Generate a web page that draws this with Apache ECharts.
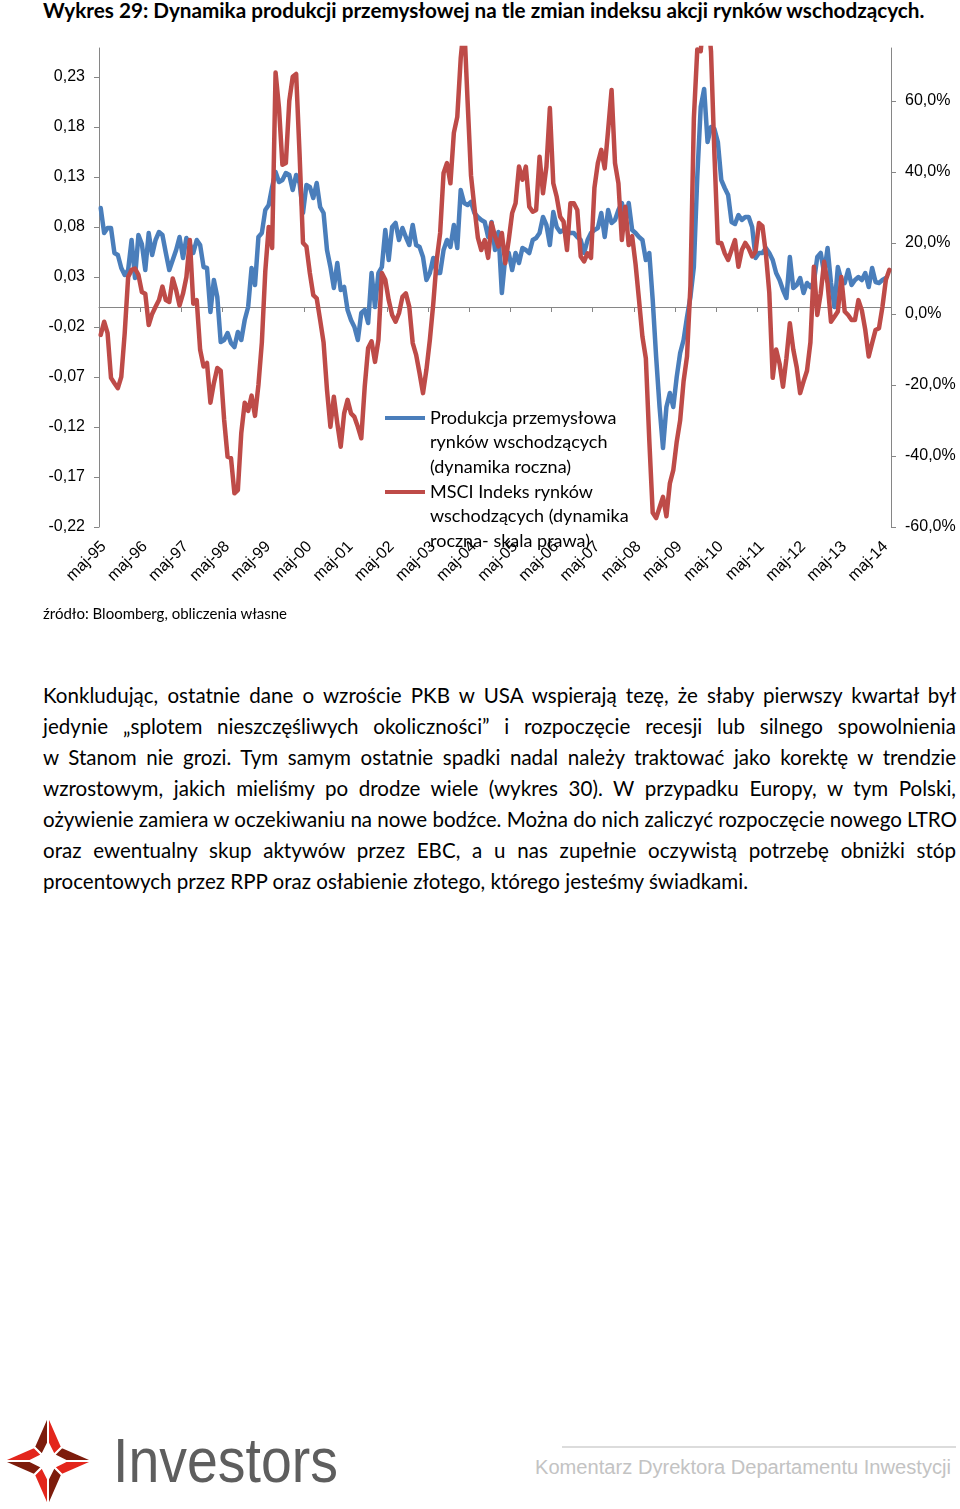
<!DOCTYPE html>
<html>
<head>
<meta charset="utf-8">
<script src="https://cdn.jsdelivr.net/npm/echarts@6/dist/echarts.min.js"></script>
<style>
html,body{margin:0;padding:0;background:#fff;}
body{width:960px;height:1509px;overflow:hidden;position:relative;}
.t{position:absolute;white-space:nowrap;color:#000;}
#title{left:43px;top:-2px;font-family:Lato;font-weight:bold;font-size:19px;line-height:24px;}
#chart{position:absolute;left:0;top:0;width:960px;height:640px;}
#src{left:43px;top:603px;font-family:Lato;font-size:14.5px;line-height:20px;}
.pl{position:absolute;left:43px;width:913px;font-family:Lato;font-size:20px;line-height:31px;white-space:nowrap;color:#000;text-align:justify;text-align-last:justify;}
.pl.last{text-align:left;text-align-last:left;}
#inv{left:113px;top:1424px;font-family:"Liberation Sans",sans-serif;font-size:63px;line-height:72px;color:#5e5e5e;transform-origin:0 0;}
#kom{left:535px;top:1455px;font-family:"Liberation Sans",sans-serif;font-size:20px;line-height:24px;color:#c3c3c3;transform-origin:0 0;}
#rule{position:absolute;left:562px;top:1446px;width:394px;height:2px;background:#dcdcdc;}
</style>
</head>
<body>
<div class="t" id="title"><span id="titleSpan">Wykres 29: Dynamika produkcji przemysłowej na tle zmian indeksu akcji rynków wschodzących.</span></div>
<div id="chart"></div>
<div class="t" id="src"><span id="srcSpan">źródło: Bloomberg, obliczenia własne</span></div>

<div class="pl" style="top:680px">Konkludując, ostatnie dane o wzroście PKB w USA wspierają tezę, że słaby pierwszy kwartał był</div>
<div class="pl" style="top:711px">jedynie „splotem nieszczęśliwych okoliczności” i rozpoczęcie recesji lub silnego spowolnienia</div>
<div class="pl" style="top:742px">w Stanom nie grozi. Tym samym ostatnie spadki nadal należy traktować jako korektę w trendzie</div>
<div class="pl" style="top:773px">wzrostowym, jakich mieliśmy po drodze wiele (wykres 30). W przypadku Europy, w tym Polski,</div>
<div class="pl" style="top:804px">ożywienie zamiera w oczekiwaniu na nowe bodźce. Można do nich zaliczyć rozpoczęcie nowego LTRO</div>
<div class="pl" style="top:835px">oraz ewentualny skup aktywów przez EBC, a u nas zupełnie oczywistą potrzebę obniżki stóp</div>
<div class="pl last" style="top:866px"><span id="lastSpan">procentowych przez RPP oraz osłabienie złotego, którego jesteśmy świadkami.</span></div>

<svg style="position:absolute;left:0;top:1413px" width="96" height="96" viewBox="0 0 96 96">
  <g stroke="#fff" stroke-width="2" stroke-linejoin="miter">
    <polygon fill="#e3261c" points="48,2 62,34 54,42 48,30"/>
    <polygon fill="#7d1c0c" points="48,2 48,30 42,42 34,34"/>
    <polygon fill="#e3261c" points="94,48 62,62 54,54 66,48"/>
    <polygon fill="#7d1c0c" points="94,48 66,48 54,42 62,34"/>
    <polygon fill="#e3261c" points="48,94 34,62 42,54 48,66"/>
    <polygon fill="#7d1c0c" points="48,94 48,66 54,54 62,62"/>
    <polygon fill="#e3261c" points="2,48 34,34 42,42 30,48"/>
    <polygon fill="#7d1c0c" points="2,48 30,48 42,54 34,62"/>
  </g>
</svg>
<div class="t" id="inv"><span id="invSpan">Investors</span></div>
<div id="rule"></div>
<div class="t" id="kom"><span id="komSpan">Komentarz Dyrektora Departamentu Inwestycji</span></div>

<script>
// ---------- DATA ----------
const monthNames = ['sty','lut','mar','kwi','maj','cze','lip','sie','wrz','paź','lis','gru'];
const startYear = 1995;
const startMonth = 4; // maj
const nMonths = 231;  // maj-95 .. lip-14

const nameProd = 'Produkcja przemysłowa rynków wschodzących (dynamika roczna)';
const nameMsci = 'MSCI Indeks rynków wschodzących (dynamika roczna- skala prawa)';

const legendLines = {};
legendLines[nameProd] = ['Produkcja przemysłowa', 'rynków wschodzących', '(dynamika roczna)'];
legendLines[nameMsci] = ['MSCI Indeks rynków', 'wschodzących (dynamika', 'roczna- skala prawa)'];

// Industrial production EM, y/y (left axis)
const prodEM = [
0.099,0.074,0.079,0.079,0.054,0.052,0.039,0.032,0.037,0.067,
0.029,0.072,0.063,0.037,0.074,0.052,0.067,0.075,0.072,0.054,
0.037,0.047,0.057,0.07,0.049,0.069,0.063,0.054,0.067,0.062,
0.04,0.039,-0.005,0.027,0.01,-0.035,-0.033,-0.026,-0.036,-0.04,
-0.025,-0.033,-0.013,0.0,0.039,0.022,0.07,0.074,0.097,0.102,
0.12,0.135,0.125,0.127,0.134,0.132,0.117,
0.132,0.124,0.094,0.122,0.12,0.109,0.124,0.1,0.094,0.057,
0.04,0.019,0.044,0.017,0.02,-0.003,-0.013,-0.02,-0.033,-0.006,
-0.003,-0.016,0.034,0.0,0.034,0.04,0.077,0.047,0.08,0.084,
0.067,0.079,0.07,0.062,0.082,0.062,0.06,0.05,0.027,0.034,
0.049,0.034,0.034,0.057,0.067,0.06,0.082,0.059,0.117,0.104,
0.102,0.105,0.094,0.09,0.087,
0.085,0.07,0.085,0.057,0.075,0.014,0.05,0.054,0.037,0.054,
0.044,0.059,0.057,0.054,0.067,0.069,0.074,0.09,0.082,0.062,
0.095,0.08,0.075,0.077,0.075,0.074,0.074,0.07,0.067,0.054,
0.067,0.074,0.077,0.079,0.094,0.07,0.097,0.084,0.087,0.097,
0.104,0.085,0.104,0.077,0.074,0.07,0.067,0.047,0.054,0.007,
-0.05,-0.1,-0.141,-0.1,-0.086,-0.1,-0.07,-0.046,-0.033,
-0.01,0.01,0.04,0.13,0.2,0.218,0.165,0.18,0.178,0.165,
0.127,0.119,0.112,0.085,0.083,0.092,0.087,0.09,0.09,0.08,
0.049,0.054,0.054,0.059,0.054,0.047,0.034,0.027,0.017,0.009,
0.05,0.019,0.022,0.029,0.014,0.024,0.02,0.025,0.05,0.054,
0.034,0.059,0.024,0.0,0.04,0.027,0.024,0.037,0.022,0.027,
0.03,0.027,0.034,0.02,0.039,0.025,0.024,0.027,0.029,null
];

// MSCI EM index, y/y (right axis)
const msciEM = [
-0.059,-0.022,-0.054,-0.18,-0.195,-0.209,-0.177,-0.054,0.104,0.124,
0.128,0.11,0.062,0.057,-0.031,0.0,0.02,0.039,0.077,0.039,
0.034,0.1,0.067,0.024,0.057,0.104,0.208,0.029,0.039,-0.101,
-0.148,-0.138,-0.25,-0.195,-0.152,-0.16,-0.298,-0.402,-0.406,-0.505,
-0.496,-0.335,-0.25,-0.273,-0.23,-0.287,-0.2,-0.08,0.12,0.245,
0.186,0.68,0.58,0.42,0.425,0.6,0.668,
0.676,0.45,0.2,0.19,0.115,0.053,0.044,-0.017,-0.08,-0.214,
-0.318,-0.233,-0.308,-0.374,-0.28,-0.242,-0.28,-0.29,-0.318,-0.35,
-0.205,-0.096,-0.077,-0.135,-0.073,0.115,0.096,0.039,-0.003,-0.022,
0.002,0.048,0.058,0.02,-0.082,-0.115,-0.167,-0.223,-0.157,-0.073,
0.029,0.152,0.228,0.397,0.425,0.368,0.51,0.555,0.72,0.82,
0.6,0.39,0.3,0.215,0.18,
0.208,0.158,0.256,0.219,0.19,0.228,0.143,0.208,0.284,0.312,
0.415,0.378,0.415,0.302,0.288,0.293,0.443,0.34,0.415,0.58,
0.368,0.33,0.274,0.26,0.18,0.312,0.312,0.293,0.162,0.148,
0.171,0.158,0.355,0.425,0.462,0.41,0.518,0.631,0.425,0.368,
0.208,0.302,0.194,0.219,0.14,0.04,-0.064,-0.125,-0.355,-0.56,
-0.575,-0.545,-0.515,-0.57,-0.477,-0.44,-0.36,-0.3,-0.19,
-0.12,0.08,0.55,0.745,0.74,0.85,0.85,0.74,0.45,0.2,
0.2,0.171,0.152,0.18,0.208,0.133,0.18,0.2,0.185,0.162,
0.176,0.256,0.247,0.171,0.06,-0.18,-0.1,-0.14,-0.205,-0.125,
-0.026,-0.1,-0.15,-0.223,-0.19,-0.16,-0.08,0.133,-0.003,0.058,
0.147,0.086,-0.022,-0.008,0.007,0.104,0.007,-0.003,-0.017,-0.017,
0.039,0.01,-0.045,-0.12,-0.082,-0.045,-0.04,0.02,0.096,0.124
];

// Axis scales
const leftMin = -0.22, leftMax = 0.259, leftStep = 0.05;
const rightMin = -0.6, rightMax = 0.749, rightStep = 0.2;

// category labels (month-yy)
const categories = [];
for (let k = 0; k < nMonths; k++) {
  const m = (startMonth + k) % 12;
  const y = startYear + Math.floor((startMonth + k) / 12);
  categories.push(monthNames[m] + '-' + String(y).slice(2));
}

// ---------- CHART ----------
const axisGray = '#868686';
const blue = '#4A7EBB';
const red = '#BE4B48';
const chart = echarts.init(document.getElementById('chart'), null, {renderer: 'canvas'});

function fmtLeft(v) {
  if (Math.abs(v) < 1e-9) v = 0;
  if (v > leftMax - 1e-6) return '';
  return v.toFixed(2).replace('.', ',');
}
function fmtRight(v) {
  if (Math.abs(v) < 1e-9) v = 0;
  if (v > rightMax - 1e-6) return '';
  return (v * 100).toFixed(1).replace('.', ',') + '%';
}

// two blank lines before the text keep the legend line next to the first text line
function legendCfg(name, top) {
  return {
    data: [name],
    orient: 'vertical',
    left: 385,
    top: top,
    padding: 0,
    icon: 'rect',
    itemWidth: 40,
    itemHeight: 4,
    selectedMode: false,
    formatter: n => ['', ''].concat(legendLines[n]).join('\n'),
    textStyle: {fontFamily: 'Lato', fontSize: 18, lineHeight: 24.5, color: '#000'}
  };
}

chart.setOption({
  animation: false,
  grid: [
    {left: 99, right: 69, top: 48, bottom: 113, containLabel: false},
    {left: 102, right: 66, top: 48, bottom: 113, containLabel: false}
  ],
  legend: [legendCfg(nameProd, 356.75), legendCfg(nameMsci, 430.75)],
  xAxis: [
    {
      type: 'category', gridIndex: 0, data: categories, boundaryGap: true, position: 'top',
      axisLine: {show: true, onZero: true, onZeroAxisIndex: 0, lineStyle: {color: axisGray, width: 1}},
      axisTick: {show: true, inside: true, interval: 11, length: 5, lineStyle: {color: axisGray}},
      axisLabel: {show: false}, splitLine: {show: false}
    },
    {
      type: 'category', gridIndex: 1, data: categories, boundaryGap: true, position: 'bottom',
      axisLine: {show: false}, axisTick: {show: false}, splitLine: {show: false},
      axisLabel: {interval: 11, rotate: 45, margin: 17, fontFamily: 'Liberation Sans', fontSize: 16, color: '#000'}
    }
  ],
  yAxis: [
    {
      type: 'value', gridIndex: 0, position: 'left', min: leftMin, max: leftMax, interval: leftStep,
      axisLine: {show: true, onZero: false, lineStyle: {color: axisGray, width: 1}},
      axisTick: {show: true, length: 5, lineStyle: {color: axisGray}},
      splitLine: {show: false},
      axisLabel: {margin: 14, formatter: fmtLeft, showMaxLabel: false, fontFamily: 'Liberation Sans', fontSize: 16, color: '#000'}
    },
    {
      type: 'value', gridIndex: 0, position: 'right', min: rightMin, max: rightMax, interval: rightStep,
      axisLine: {show: true, onZero: false, lineStyle: {color: axisGray, width: 1}},
      axisTick: {show: true, length: 5, lineStyle: {color: axisGray}},
      splitLine: {show: false},
      axisLabel: {margin: 14, formatter: fmtRight, showMaxLabel: false, fontFamily: 'Liberation Sans', fontSize: 16, color: '#000'}
    },
    {
      type: 'value', gridIndex: 1, show: false, min: leftMin, max: leftMax
    }
  ],
  series: [
    {
      name: nameProd, type: 'line', xAxisIndex: 0, yAxisIndex: 0, data: prodEM,
      symbol: 'none', clip: true, connectNulls: false,
      lineStyle: {color: blue, width: 4.5, join: 'round', cap: 'round'}, itemStyle: {color: blue}, z: 2
    },
    {
      name: nameMsci, type: 'line', xAxisIndex: 0, yAxisIndex: 1, data: msciEM,
      symbol: 'none', clip: true,
      lineStyle: {color: red, width: 4.5, join: 'round', cap: 'round'}, itemStyle: {color: red}, z: 3
    }
  ]
});

// ---------- TEXT FITTING ----------
function fitTo(spanId, target) {
  const el = document.getElementById(spanId);
  const w = el.getBoundingClientRect().width;
  const host = el.parentElement;
  const fs = parseFloat(getComputedStyle(host).fontSize);
  if (w > 0) host.style.fontSize = (fs * target / w).toFixed(2) + 'px';
}
function squeezeTo(spanId, target) {
  const el = document.getElementById(spanId);
  const host = el.parentElement;
  host.style.transform = 'none';
  const w = el.getBoundingClientRect().width;
  if (w > 0) host.style.transform = 'scaleX(' + (target / w).toFixed(4) + ')';
}
function fitAll() {
  fitTo('titleSpan', 881);
  fitTo('srcSpan', 244);
  squeezeTo('invSpan', 225);
  squeezeTo('komSpan', 416);
  const last = document.getElementById('lastSpan');
  const w = last.getBoundingClientRect().width;
  const fs = parseFloat(getComputedStyle(last.parentElement).fontSize);
  if (w > 0) {
    const nf = (fs * 705 / w).toFixed(2) + 'px';
    document.querySelectorAll('.pl').forEach(d => d.style.fontSize = nf);
  }
}
fitAll();
if (document.fonts && document.fonts.ready) document.fonts.ready.then(fitAll);
</script>
</body>
</html>
